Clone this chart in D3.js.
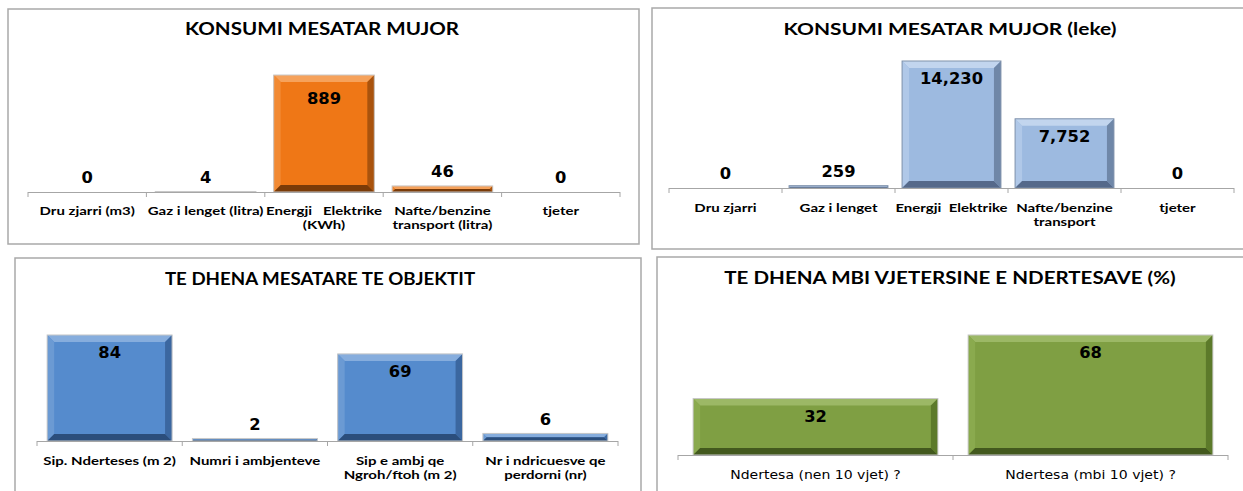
<!DOCTYPE html>
<html><head><meta charset="utf-8">
<script src="https://cdn.jsdelivr.net/npm/d3@7"></script>
<style>
html,body{margin:0;padding:0;background:#fff;}
svg{display:block;}
text{white-space:pre;}
</style></head>
<body>
<script>
// ---- DATA ----
const titles = [
  "KONSUMI MESATAR MUJOR",
  "KONSUMI MESATAR MUJOR (leke)",
  "TE DHENA MESATARE TE OBJEKTIT",
  "TE DHENA MBI VJETERSINE E NDERTESAVE (%)"
];
const cats1 = [["Dru zjarri (m3)"], ["Gaz i lenget (litra)"], ["Energji   Elektrike", "(KWh)"], ["Nafte/benzine", "transport (litra)"], ["tjeter"]];
const vals1 = [0, 4, 889, 46, 0];
const cats2 = [["Dru zjarri"], ["Gaz i lenget"], ["Energji  Elektrike"], ["Nafte/benzine", "transport"], ["tjeter"]];
const vals2 = [0, 259, 14230, 7752, 0];
const cats3 = [["Sip. Nderteses (m 2)"], ["Numri i ambjenteve"], ["Sip e ambj qe", "Ngroh/ftoh (m 2)"], ["Nr i ndricuesve qe", "perdorni (nr)"]];
const vals3 = [84, 2, 69, 6];
const cats4 = [["Ndertesa (nen 10 vjet) ?"], ["Ndertesa (mbi 10 vjet) ?"]];
const vals4 = [32, 68];
const axisMax = [1000, 16000, 90, 80];

// ---- LAYOUT ----
const W = 1243, H = 491;
const svg = d3.select("body").append("svg").attr("width", W).attr("height", H);

const boldCat = {family:"Lato", weight:"bold", size:12, sx:1.25};
const panels = [
  {frame:[8,9,631,235], titleX:322, titleY:28, titleSx:1.21, x0:28, x1:620, base:192, top:60.4, catY:211, pad:0.15, inOff:24,
   cats:cats1, vals:vals1, max:axisMax[0], fmt:d3.format(","),
   col:{base:"#EF7716", light:"#F6A25B", mid:"#F28A33", dark:"#A9530D", darker:"#7A3B08", outline:"#c8c8c8"},
   catFont:boldCat, title:titles[0]},
  {frame:[652,8,600,241], titleX:950, titleY:28, titleSx:1.23, x0:669, x1:1234, base:188, top:45.2, catY:208, pad:0.125, inOff:18,
   cats:cats2, vals:vals2, max:axisMax[1], fmt:d3.format(","),
   col:{base:"#9DBAE0", light:"#C2D5EE", mid:"#B0C8E8", dark:"#6F87A8", darker:"#55698A", outline:"#8092ab"},
   catFont:boldCat, title:titles[1]},
  {frame:[15,258,626,240], titleX:320, titleY:278, titleSx:1.10, x0:37, x1:618, base:441, top:327.4, catY:461, pad:0.14, inOff:18,
   cats:cats3, vals:vals3, max:axisMax[2], fmt:d3.format(","),
   col:{base:"#558BCD", light:"#86ADDD", mid:"#6B9AD3", dark:"#3B67A0", darker:"#2B4E7C", outline:"#c8c8c8"},
   catFont:boldCat, title:titles[2]},
  {frame:[657,257,600,240], titleX:950, titleY:277, titleSx:1.21, x0:678, x1:1228, base:455, top:313.8, catY:475, pad:0.11, inOff:18,
   cats:cats4, vals:vals4, max:axisMax[3], fmt:d3.format(","),
   col:{base:"#7F9F43", light:"#9CB866", mid:"#8AAA4E", dark:"#5C7A2A", darker:"#43591E", outline:"#c8c8c8"},
   catFont:{family:"DejaVu Sans", weight:"normal", size:12, sx:1.17}, title:titles[3]}
];

function stretchedText(g, x, y, str, opts) {
  return g.append("text")
    .attr("transform", `translate(${x},${y}) scale(${opts.sx},1)`)
    .attr("text-anchor", "middle")
    .attr("dominant-baseline", "central")
    .attr("font-family", opts.family)
    .attr("font-weight", opts.weight)
    .attr("font-size", opts.size)
    .attr("fill", opts.fill || "#000")
    .text(str);
}

function bevelBar(g, x, y, w, h, c) {
  const b = Math.max(0, Math.min(7, h / 2, w / 2));
  const bg = g.append("g");
  bg.append("rect").attr("x", x).attr("y", y).attr("width", w).attr("height", h).attr("fill", c.base);
  if (b > 0.5) {
    const poly = (pts, fill) => bg.append("polygon").attr("points", pts.map(p => p.join(",")).join(" ")).attr("fill", fill);
    poly([[x,y],[x+w,y],[x+w-b,y+b],[x+b,y+b]], c.light);
    poly([[x,y],[x+b,y+b],[x+b,y+h-b],[x,y+h]], c.mid);
    poly([[x+w,y],[x+w,y+h],[x+w-b,y+h-b],[x+w-b,y+b]], c.dark);
    poly([[x,y+h],[x+w,y+h],[x+w-b,y+h-b],[x+b,y+h-b]], c.darker);
  }
  bg.append("rect").attr("x", x).attr("y", y).attr("width", w).attr("height", h)
    .attr("fill", "none").attr("stroke", c.outline).attr("stroke-width", 1);
}

panels.forEach(p => {
  const g = svg.append("g");
  const [fx, fy, fw, fh] = p.frame;
  g.append("rect").attr("x", fx).attr("y", fy).attr("width", fw).attr("height", fh)
    .attr("fill", "#fff").attr("stroke", "#a9a9a9").attr("stroke-width", 1.5);

  stretchedText(g, p.titleX, p.titleY, p.title, {family:"Lato", weight:"bold", size:17, sx:p.titleSx});

  const idx = p.vals.map((d, i) => i);
  const x = d3.scaleBand().domain(idx).range([p.x0, p.x1]).paddingInner(p.pad).paddingOuter(p.pad / 2);
  const y = d3.scaleLinear().domain([0, p.max]).range([p.base, p.top]);
  const step = x.step();

  // bars
  idx.forEach(i => {
    const v = p.vals[i];
    const yt = y(v), h = p.base - yt;
    if (h > 0) bevelBar(g, x(i), yt, x.bandwidth(), h, p.col);
  });

  // axis line + boundary ticks
  g.append("line").attr("x1", p.x0).attr("x2", p.x1).attr("y1", p.base + 0.5).attr("y2", p.base + 0.5)
    .attr("stroke", "#a6a6a6").attr("stroke-width", 1);
  const bounds = idx.map(i => x(i) - step * p.pad / 2).concat([p.x1]);
  g.selectAll(null).data(bounds).join("line")
    .attr("x1", d => d).attr("x2", d => d).attr("y1", p.base).attr("y2", p.base + 5)
    .attr("stroke", "#a6a6a6").attr("stroke-width", 1);

  // value labels
  idx.forEach(i => {
    const v = p.vals[i];
    const yt = y(v), h = p.base - yt;
    const cx = x(i) + x.bandwidth() / 2;
    const ly = h > 30 ? yt + p.inOff : yt - 14;
    stretchedText(g, cx, ly, p.fmt(v), {family:"DejaVu Sans", weight:"bold", size:16, sx:1.02});
  });

  // category labels
  idx.forEach(i => {
    const cx = x(i) + x.bandwidth() / 2;
    p.cats[i].forEach((line, k) => {
      stretchedText(g, cx, p.catY + k * 14, line, p.catFont);
    });
  });
});
</script>
</body></html>
